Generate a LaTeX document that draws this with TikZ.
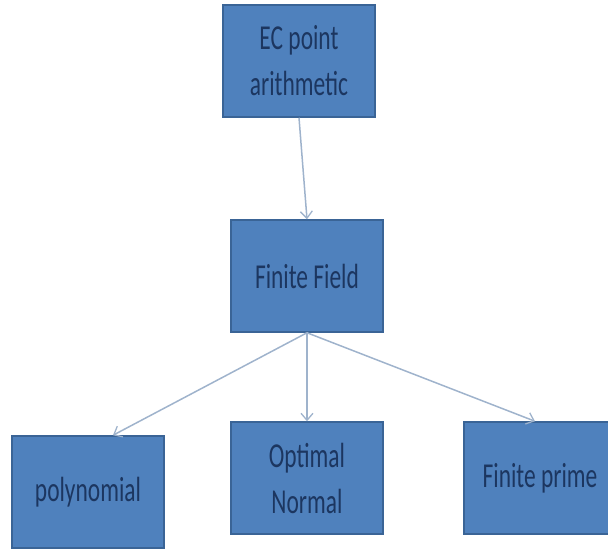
\documentclass[tikz,border=0pt]{standalone}
\usepackage{fontspec}
\setmainfont{Carlito}[FakeStretch=0.67]
\usetikzlibrary{arrows.meta}
\definecolor{boxfill}{HTML}{4F81BD}
\definecolor{boxline}{HTML}{3A6496}
\definecolor{boxtext}{HTML}{1C3660}
\definecolor{arrowcol}{HTML}{9FB3CC}
\tikzset{
  box/.style={draw=boxline, line width=1.5pt, fill=boxfill, text=boxtext,
    minimum width=152, minimum height=112, inner sep=0pt, align=center,
    font=\fontsize{35}{46}\selectfont},
  conn/.style={draw=arrowcol, line width=1.5pt,
    -{Straight Barb[length=7pt,width=12pt,line width=1.3pt]}}
}
\begin{document}
\begin{tikzpicture}[x=1pt,y=-1pt]
\useasboundingbox (0,0) rectangle (608,550);
\clip (0,0) rectangle (608,550);
\node[box] (ec) at (299,61) {EC point\\arithmetic};
\node[box] (ff) at (307,276) {Finite Field};
\node[box] (poly) at (88,492) {polynomial};
\node[box] (on) at (307,478) {Optimal\\Normal};
\node[box] (fp) at (540,478) {Finite prime};
\draw[conn] (ec.south) -- (ff.north);
\draw[conn] (ff.south) -- ([xshift=25]poly.north);
\draw[conn] (ff.south) -- (on.north);
\draw[conn] (ff.south) -- ([xshift=-5]fp.north);
\end{tikzpicture}
\end{document}
